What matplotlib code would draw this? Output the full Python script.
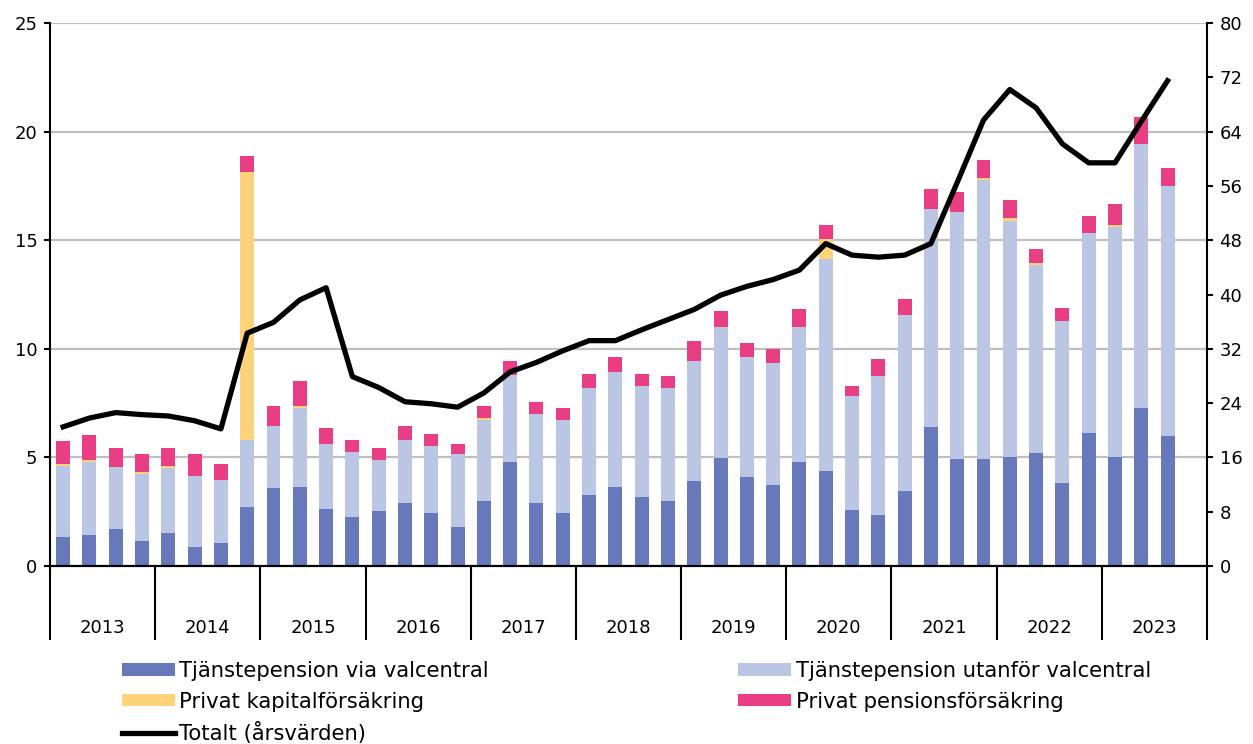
import matplotlib
matplotlib.use("Agg")
import matplotlib.pyplot as plt
import numpy as np

# Kvartal 2013K1 - 2023K3 (2023K4 saknas)
years = ["2013", "2014", "2015", "2016", "2017", "2018",
         "2019", "2020", "2021", "2022", "2023"]

via_valcentral = [1.33, 1.43, 1.70, 1.15, 1.52, 0.87, 1.05, 2.73, 3.57, 3.66, 2.64,
                  2.27, 2.54, 2.92, 2.45, 1.80, 3.00, 4.77, 2.90, 2.44, 3.28, 3.65,
                  3.19, 3.00, 3.93, 4.95, 4.12, 3.74, 4.77, 4.38, 2.60, 2.33, 3.44,
                  6.42, 4.93, 4.93, 5.02, 5.20, 3.81, 6.14, 5.02, 7.26, 5.98]
utanfor_valcentral = [3.27, 3.35, 2.87, 3.08, 2.99, 3.26, 2.89, 3.07, 2.88, 3.63, 2.97,
                      2.97, 2.33, 2.88, 3.07, 3.35, 3.72, 4.01, 4.10, 4.28, 4.93, 5.30,
                      5.11, 5.21, 5.49, 6.05, 5.48, 5.59, 6.23, 9.75, 5.24, 6.44, 8.12,
                      10.03, 11.35, 12.84, 10.88, 8.66, 7.45, 9.21, 10.61, 12.17, 11.51]
kapitalforsakring = [0.08, 0.09, 0.0, 0.08, 0.09, 0.0, 0.0, 12.34, 0.0, 0.09, 0.0,
                     0.0, 0.0, 0.0, 0.0, 0.0, 0.09, 0.0, 0.0, 0.0, 0.0, 0.0,
                     0.0, 0.0, 0.0, 0.0, 0.0, 0.0, 0.0, 0.93, 0.0, 0.0, 0.0,
                     0.0, 0.0, 0.09, 0.10, 0.09, 0.0, 0.0, 0.09, 0.0, 0.0]
pensionsforsakring = [1.07, 1.18, 0.86, 0.84, 0.83, 1.02, 0.74, 0.74, 0.93, 1.12, 0.75,
                      0.56, 0.56, 0.65, 0.56, 0.46, 0.56, 0.64, 0.56, 0.56, 0.65, 0.65,
                      0.56, 0.56, 0.93, 0.74, 0.66, 0.65, 0.84, 0.65, 0.46, 0.74, 0.74,
                      0.93, 0.92, 0.84, 0.84, 0.65, 0.64, 0.75, 0.93, 1.22, 0.84]
totalt = [20.5, 21.8, 22.6, 22.3, 22.1, 21.4, 20.2, 34.3, 35.9, 39.2, 41.0,
          27.9, 26.3, 24.2, 23.9, 23.4, 25.5, 28.6, 30.0, 31.7, 33.2, 33.2,
          34.8, 36.3, 37.8, 39.9, 41.2, 42.2, 43.6, 47.5, 45.8, 45.5, 45.8,
          47.5, 56.5, 65.7, 70.2, 67.5, 62.2, 59.4, 59.4, 65.5, 71.5]

plt.rcParams['font.family'] = ['DejaVu Sans']
FS = 13
FS_LEG = 15.2

c_via = '#6779BB'
c_utan = '#BBC6E4'
c_kap = '#FFD37A'
c_pens = '#E93D84'

fig = plt.figure(figsize=(12.53, 7.44), dpi=100)
ax = fig.add_axes([50 / 1253, 1 - 566 / 744, (1207 - 50) / 1253, (566 - 23) / 744])
ax2 = ax.twinx()

x = np.arange(len(via_valcentral))
w = 0.53
b1 = np.array(via_valcentral)
b2 = b1 + np.array(utanfor_valcentral)
b3 = b2 + np.array(kapitalforsakring)

ax.bar(x, via_valcentral, w, color=c_via, label='Tjänstepension via valcentral', zorder=2)
ax.bar(x, utanfor_valcentral, w, bottom=b1, color=c_utan,
       label='Tjänstepension utanför valcentral', zorder=2)
ax.bar(x, kapitalforsakring, w, bottom=b2, color=c_kap,
       label='Privat kapitalförsäkring', zorder=2)
ax.bar(x, pensionsforsakring, w, bottom=b3, color=c_pens,
       label='Privat pensionsförsäkring', zorder=2)

ax2.plot(x, totalt, color='black', lw=3.8, label='Totalt (årsvärden)')

# axlar
ax.set_xlim(-0.5, 4 * len(years) - 0.5)
ax.set_ylim(0, 25)
ax.set_yticks(range(0, 26, 5))
ax2.set_ylim(0, 80)
ax2.set_yticks(range(0, 81, 8))

ax.yaxis.grid(True, color='#BFBFBF', lw=1.6, zorder=0)
ax.set_axisbelow(True)

for a in (ax, ax2):
    a.spines['top'].set_visible(False)
    for s in ('left', 'right', 'bottom'):
        a.spines[s].set_linewidth(1.5)
    a.tick_params(axis='y', labelsize=FS, length=4, width=1.5, pad=5, colors='black')
ax2.spines['left'].set_visible(False)
ax.spines['right'].set_visible(False)

ax.set_xticks([4 * i + 1.5 for i in range(len(years))])
ax.set_xticklabels(years, fontsize=FS)
ax.set_xticks([4 * i - 0.5 for i in range(len(years) + 1)], minor=True)
ax.tick_params(axis='x', which='major', length=0, pad=38)
ax.tick_params(axis='x', which='minor', length=53, width=1.5, direction='out')

# legend
handles1, labels1 = ax.get_legend_handles_labels()
handles2, labels2 = ax2.get_legend_handles_labels()
order_h = [handles1[0], handles1[2], handles2[0], handles1[1], handles1[3]]
order_l = [labels1[0], labels1[2], labels2[0], labels1[1], labels1[3]]
fig.legend(order_h, order_l, loc='upper left', bbox_to_anchor=(122 / 1253, 1 - 661 / 744),
           ncol=2, frameon=False, fontsize=FS_LEG, handlelength=2.5, handleheight=0.55,
           handletextpad=0.22, labelspacing=0.5, columnspacing=11.8, borderpad=0,
           borderaxespad=0)

fig.savefig('out.png', dpi=100)
